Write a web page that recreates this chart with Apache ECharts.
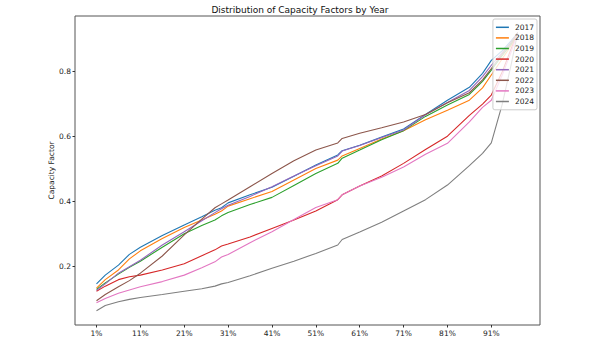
<!DOCTYPE html>
<html>
<head>
<meta charset="utf-8">
<script src="https://cdn.jsdelivr.net/npm/echarts@6/dist/echarts.min.js"></script>
<style>html,body{margin:0;padding:0;background:#fff}#c{width:600px;height:338px}</style>
</head>
<body>
<div id="c"></div>
<script>
const percentiles = [1,3,6,8.5,11,16,21,25,28,29.5,31,36,41,46,51,56,57,61,66,71,76,81,86,89,91,93.5,95.5,97];
const years = ['2017','2018','2019','2020','2021','2022','2023','2024'];
const cf2017 = [0.145,0.172,0.203,0.236,0.258,0.294,0.327,0.352,0.372,0.380,0.395,0.420,0.443,0.477,0.512,0.543,0.556,0.573,0.598,0.623,0.668,0.712,0.752,0.795,0.835,0.865,0.895,0.920];
const cf2018 = [0.132,0.158,0.188,0.222,0.247,0.285,0.319,0.342,0.360,0.370,0.385,0.408,0.430,0.466,0.501,0.527,0.540,0.563,0.592,0.618,0.652,0.681,0.712,0.750,0.790,0.840,0.880,0.920];
const cf2019 = [0.128,0.148,0.175,0.196,0.215,0.258,0.300,0.325,0.342,0.355,0.365,0.390,0.412,0.449,0.486,0.517,0.533,0.558,0.590,0.618,0.662,0.697,0.730,0.770,0.805,0.850,0.885,0.920];
const cf2020 = [0.122,0.138,0.158,0.167,0.172,0.188,0.207,0.232,0.250,0.262,0.268,0.290,0.316,0.342,0.370,0.405,0.420,0.447,0.478,0.517,0.560,0.601,0.665,0.700,0.728,0.800,0.870,0.920];
const cf2021 = [0.125,0.145,0.178,0.198,0.218,0.265,0.306,0.340,0.365,0.377,0.388,0.415,0.445,0.478,0.510,0.540,0.555,0.572,0.597,0.620,0.667,0.705,0.742,0.785,0.820,0.860,0.890,0.920];
const cf2022 = [0.093,0.112,0.136,0.155,0.178,0.231,0.296,0.345,0.380,0.392,0.404,0.445,0.486,0.525,0.558,0.580,0.594,0.610,0.627,0.645,0.668,0.704,0.735,0.775,0.810,0.855,0.890,0.920];
const cf2023 = [0.087,0.100,0.116,0.126,0.136,0.152,0.172,0.195,0.213,0.228,0.236,0.272,0.306,0.344,0.381,0.405,0.420,0.447,0.474,0.506,0.545,0.579,0.645,0.690,0.712,0.790,0.860,0.920];
const cf2024 = [0.062,0.078,0.090,0.097,0.103,0.112,0.122,0.130,0.138,0.145,0.149,0.170,0.193,0.215,0.239,0.265,0.282,0.305,0.335,0.370,0.405,0.450,0.510,0.548,0.580,0.700,0.820,0.920];
const xTicks = [1,11,21,31,41,51,61,71,81,91];
const yTicks = [0.2,0.4,0.6,0.8];

const seriesValues = [cf2017,cf2018,cf2019,cf2020,cf2021,cf2022,cf2023,cf2024];
const colors = ['#1f77b4','#ff7f0e','#2ca02c','#d62728','#9467bd','#8c564b','#e377c2','#7f7f7f'];

const chart = echarts.init(document.getElementById('c'), null, {renderer:'svg'});
const FONT = 'DejaVu Sans';
chart.setOption({
  animation: false,
  color: colors,
  textStyle: {fontFamily: FONT},
  title: {
    text: 'Distribution of Capacity Factors by Year',
    left: 'center', top: 2,
    padding: [3, 0, 3, 15],
    textStyle: {fontFamily: FONT, fontSize: 9, fontWeight: 'normal', color: '#111'}
  },
  legend: {
    orient: 'vertical',
    right: 63, top: 19,
    padding: [3, 3, 3, 3],
    itemGap: 0,
    itemWidth: 13, itemHeight: 1.5,
    icon: 'rect',
    backgroundColor: 'rgba(255,255,255,0.8)',
    borderColor: '#ccc', borderWidth: 1, borderRadius: 2,
    textStyle: {fontFamily: FONT, fontSize: 7.5, color: '#222', lineHeight: 10.6, padding: [0,0,0,1]},
    data: years
  },
  grid: {left: 75, right: 60, top: 16, bottom: 13, show: true, borderColor: '#555', borderWidth: 1, backgroundColor: 'transparent'},
  xAxis: {
    type: 'value', min: -3.9, max: 102.1,
    axisLine: {show: false, onZero: false},
    splitLine: {show: false},
    axisTick: {show: true, length: 2.5, lineStyle: {color: '#333'}, customValues: xTicks},
    axisLabel: {customValues: xTicks, formatter: v => v + '%', fontSize: 7.5, color: '#222', margin: 4, fontFamily: FONT}
  },
  yAxis: {
    type: 'value', min: 0.018, max: 0.972,
    name: 'Capacity Factor', nameLocation: 'middle', nameGap: 20, nameMoveOverlap: false,
    nameTextStyle: {fontSize: 7.5, color: '#222', fontFamily: FONT},
    axisLine: {show: false, onZero: false},
    splitLine: {show: false},
    axisTick: {show: true, length: 2.5, lineStyle: {color: '#333'}, customValues: yTicks},
    axisLabel: {customValues: yTicks, formatter: v => v.toFixed(1), fontSize: 7.5, color: '#222', margin: 4, fontFamily: FONT}
  },
  series: years.map((y, i) => ({
    name: y, type: 'line', showSymbol: false, symbol: 'none',
    lineStyle: {width: 1.1},
    data: percentiles.map((p, j) => [p, seriesValues[i][j]])
  }))
});
</script>
</body>
</html>
